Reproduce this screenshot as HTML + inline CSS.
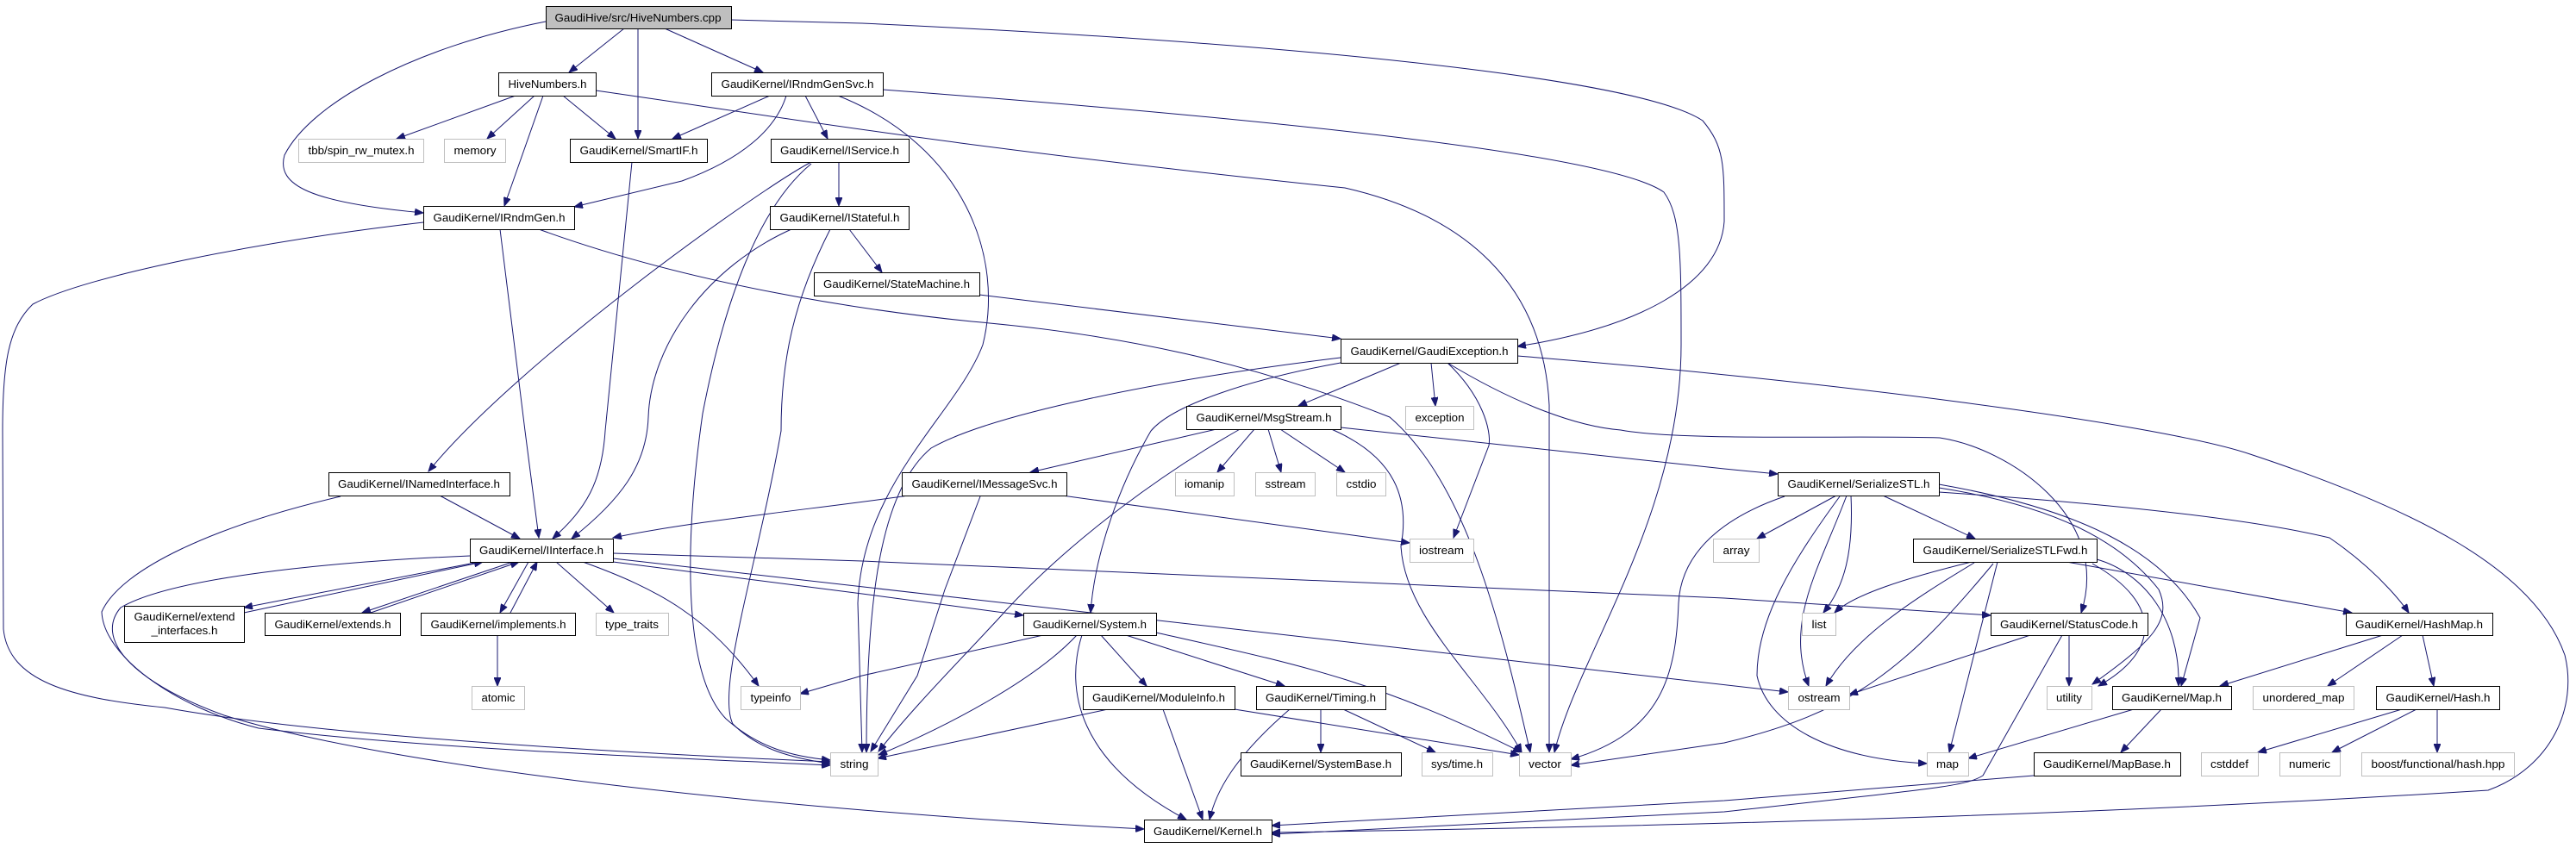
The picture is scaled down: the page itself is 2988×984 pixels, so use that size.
<!DOCTYPE html>
<html><head><meta charset="utf-8"><style>
html,body{margin:0;padding:0;background:#fff;}
svg{display:block;}
text{font-family:"Liberation Sans",sans-serif;font-size:13px;fill:#000;text-anchor:middle;}
.n{fill:#fff;stroke:#000;stroke-width:1;}
.g{fill:#fff;stroke:#bfbfbf;stroke-width:1;}
.e{fill:none;stroke:#191970;stroke-width:1;marker-end:url(#a);}
</style></head><body>
<svg width="2988" height="984" viewBox="0 0 2988 984" xmlns="http://www.w3.org/2000/svg">
<defs><marker id="a" markerUnits="userSpaceOnUse" markerWidth="11" markerHeight="8" refX="10" refY="4" orient="auto"><path d="M0,0 L10,4 L0,8 z" fill="#191970" stroke="#191970"/></marker></defs>
<g>
<path class="e" d="M724,33 L660,84"/>
<path class="e" d="M740,33 L740,161"/>
<path class="e" d="M771,33 L885,84"/>
<path class="e" d="M633,25 C480,55 360,120 330,180 C320,215 360,235 491,247"/>
<path class="e" d="M848,23 L1000,27 C1500,50 1900,90 1975,140 C2000,170 2000,190 2000,257 C1995,330 1900,380 1760,402"/>
<path class="e" d="M598,111 L460,161"/>
<path class="e" d="M620,111 L565,161"/>
<path class="e" d="M653,111 L714,161"/>
<path class="e" d="M630,111 L585,239"/>
<path class="e" d="M691,105 C900,135 1100,170 1560,218 C1700,250 1790,330 1797,470 L1797,873"/>
<path class="e" d="M893,111 L780,161"/>
<path class="e" d="M912,111 C900,150 860,185 791,210 L666,240"/>
<path class="e" d="M934,111 L960,161"/>
<path class="e" d="M972,111 C1120,170 1165,300 1140,400 C1110,480 1000,560 995,700 L1000,873"/>
<path class="e" d="M1024,104 C1500,140 1870,180 1930,223 C1950,250 1950,300 1950,400 C1950,600 1830,760 1803,873"/>
<path class="e" d="M973,188 L973,239"/>
<path class="e" d="M941,188 C880,220 600,420 497,547"/>
<path class="e" d="M941,190 C880,240 840,350 815,480 C795,620 790,780 842,834 C880,868 920,878 963,882"/>
<path class="e" d="M985,266 L1023,316"/>
<path class="e" d="M918,266 C820,310 755,400 752,484 C750,540 720,580 663,625"/>
<path class="e" d="M963,266 C920,350 906,420 906,500 C880,650 830,800 850,840 C880,870 920,880 963,886"/>
<path class="e" d="M1136,342 L1555,393"/>
<path class="e" d="M580,266 L609,500 L625,624"/>
<path class="e" d="M491,258 C300,280 100,320 38,353 C10,380 3,420 3,500 L4,730 C10,790 80,810 191,821 C350,850 640,870 963,884"/>
<path class="e" d="M625,266 C800,330 1000,360 1127,373 C1300,388 1450,420 1612,484 C1700,560 1740,720 1775,873"/>
<path class="e" d="M733,188 L702,500 C698,560 680,590 641,625"/>
<path class="e" d="M510,575 L603,625"/>
<path class="e" d="M395,576 C250,610 140,660 118,710 C120,760 200,820 300,845 C500,870 800,880 963,888"/>
<path class="e" d="M1625,421 L1506,471"/>
<path class="e" d="M1660,421 L1665,471"/>
<path class="e" d="M1679,421 C1720,460 1730,500 1727,517 L1686,624"/>
<path class="e" d="M1679,421 C1760,470 1830,495 1880,499 C1950,512 2150,505 2250,508 C2330,520 2450,600 2414,711"/>
<path class="e" d="M1555,415 C1350,440 1150,480 1080,520 C1020,570 1005,700 1005,873"/>
<path class="e" d="M1555,421 C1450,440 1360,470 1335,500 C1300,560 1270,640 1265,711"/>
<path class="e" d="M1760,413 C2100,440 2500,490 2610,527 C2800,590 2940,660 2975,760 C2990,820 2960,890 2886,917 C2600,935 2200,955 1475,966"/>
<path class="e" d="M1411,498 L1195,548"/>
<path class="e" d="M1440,497 C1357,544 1242,624 1159,717 C1110,770 1060,820 1019,872"/>
<path class="e" d="M1455,498 L1412,548"/>
<path class="e" d="M1471,498 L1486,548"/>
<path class="e" d="M1485,498 L1560,548"/>
<path class="e" d="M1542,497 C1620,530 1635,580 1625,634 C1630,720 1720,790 1765,873"/>
<path class="e" d="M1555,496 L2000,544 L2062,550"/>
<path class="e" d="M1054,575 C950,590 800,605 711,624"/>
<path class="e" d="M1137,576 L1096,684 L1064,784 L1010,872"/>
<path class="e" d="M1232,575 L1635,630"/>
<path class="e" d="M556,652 L283,705"/>
<path class="e" d="M283,711 L560,652"/>
<path class="e" d="M595,652 L420,711"/>
<path class="e" d="M430,711 L602,652"/>
<path class="e" d="M613,652 L580,711"/>
<path class="e" d="M592,711 L623,652"/>
<path class="e" d="M645,652 L712,711"/>
<path class="e" d="M676,652 C765,684 823,717 880,796"/>
<path class="e" d="M545,645 C380,652 200,670 140,705 C110,740 150,790 260,830 C450,890 900,940 1327,962"/>
<path class="e" d="M711,652 L1000,689 L1187,714"/>
<path class="e" d="M711,648 L2074,803"/>
<path class="e" d="M711,642 L1000,651 L2000,694 L2309,714"/>
<path class="e" d="M577,737 L577,796"/>
<path class="e" d="M1210,737 L1000,784 L928,805"/>
<path class="e" d="M1249,737 C1200,790 1096,844 1019,876"/>
<path class="e" d="M1255,737 C1235,800 1250,884 1376,951"/>
<path class="e" d="M1277,737 L1330,796"/>
<path class="e" d="M1306,737 L1490,796"/>
<path class="e" d="M1341,734 C1500,770 1593,787 1765,873"/>
<path class="e" d="M1285,823 L1018,880"/>
<path class="e" d="M1349,823 L1395,951"/>
<path class="e" d="M1432,823 L1762,876"/>
<path class="e" d="M1496,823 C1430,880 1410,920 1403,951"/>
<path class="e" d="M1532,823 L1532,873"/>
<path class="e" d="M1558,823 L1665,873"/>
<path class="e" d="M2130,575 L2038,625"/>
<path class="e" d="M2147,575 C2150,640 2140,680 2115,711"/>
<path class="e" d="M2142,575 C2110,660 2070,720 2098,796"/>
<path class="e" d="M2134,576 C2080,650 2038,717 2038,784 C2050,840 2120,880 2235,886"/>
<path class="e" d="M2070,576 C2000,600 1950,640 1947,700 C1944,780 1930,850 1822,881"/>
<path class="e" d="M2184,575 L2291,625"/>
<path class="e" d="M2249,566 C2383,587 2459,627 2504,684 C2520,720 2497,744 2427,794"/>
<path class="e" d="M2249,562 C2415,591 2510,641 2552,717 L2530,796"/>
<path class="e" d="M2249,571 C2440,584 2606,601 2702,624 C2765,667 2794,711 2794,711"/>
<path class="e" d="M2287,652 C2210,671 2150,690 2128,711"/>
<path class="e" d="M2290,653 C2217,697 2150,740 2118,796"/>
<path class="e" d="M2317,652 L2261,873"/>
<path class="e" d="M2312,654 C2210,777 2147,827 2000,862 L1822,888"/>
<path class="e" d="M2427,654 C2510,701 2504,757 2434,796"/>
<path class="e" d="M2432,649 C2485,664 2529,717 2527,796"/>
<path class="e" d="M2397,652 L2728,711"/>
<path class="e" d="M2355,737 L2145,806"/>
<path class="e" d="M2400,737 L2400,796"/>
<path class="e" d="M2392,737 L2300,900 C2280,912 2255,914 2000,942 L1475,968"/>
<path class="e" d="M2359,900 L2000,929 L1475,958"/>
<path class="e" d="M2475,823 L2283,880"/>
<path class="e" d="M2507,823 L2460,873"/>
<path class="e" d="M2764,737 L2575,796"/>
<path class="e" d="M2787,737 L2700,796"/>
<path class="e" d="M2810,737 L2823,796"/>
<path class="e" d="M2786,823 L2619,873"/>
<path class="e" d="M2803,823 L2705,873"/>
<path class="e" d="M2827,823 L2827,873"/>
</g>
<g>
<rect x="633.5" y="7.5" width="215" height="26" fill="#bfbfbf" stroke="#000"/><text x="740" y="25" textLength="193" lengthAdjust="spacingAndGlyphs">GaudiHive/src/HiveNumbers.cpp</text>
<rect class="n" x="578.5" y="84.5" width="113" height="27"/><text x="635" y="102" textLength="91" lengthAdjust="spacingAndGlyphs">HiveNumbers.h</text>
<rect class="n" x="825.5" y="84.5" width="199" height="27"/><text x="925" y="102" textLength="177" lengthAdjust="spacingAndGlyphs">GaudiKernel/IRndmGenSvc.h</text>
<rect class="g" x="346.5" y="161.5" width="145" height="27"/><text x="419" y="179" textLength="123" lengthAdjust="spacingAndGlyphs">tbb/spin_rw_mutex.h</text>
<rect class="g" x="515.5" y="161.5" width="71" height="27"/><text x="551" y="179" textLength="49" lengthAdjust="spacingAndGlyphs">memory</text>
<rect class="n" x="661.5" y="161.5" width="159" height="27"/><text x="741" y="179" textLength="137" lengthAdjust="spacingAndGlyphs">GaudiKernel/SmartIF.h</text>
<rect class="n" x="894.5" y="161.5" width="160" height="27"/><text x="974" y="179" textLength="138" lengthAdjust="spacingAndGlyphs">GaudiKernel/IService.h</text>
<rect class="n" x="491.5" y="239.5" width="175" height="27"/><text x="579" y="257" textLength="153" lengthAdjust="spacingAndGlyphs">GaudiKernel/IRndmGen.h</text>
<rect class="n" x="893.5" y="239.5" width="161" height="27"/><text x="974" y="257" textLength="139" lengthAdjust="spacingAndGlyphs">GaudiKernel/IStateful.h</text>
<rect class="n" x="944.5" y="316.5" width="192" height="27"/><text x="1040" y="334" textLength="170" lengthAdjust="spacingAndGlyphs">GaudiKernel/StateMachine.h</text>
<rect class="n" x="1555.5" y="393.5" width="205" height="28"/><text x="1658" y="412" textLength="183" lengthAdjust="spacingAndGlyphs">GaudiKernel/GaudiException.h</text>
<rect class="n" x="1376.5" y="471.5" width="179" height="27"/><text x="1466" y="489" textLength="157" lengthAdjust="spacingAndGlyphs">GaudiKernel/MsgStream.h</text>
<rect class="g" x="1630.5" y="471.5" width="79" height="27"/><text x="1670" y="489" textLength="57" lengthAdjust="spacingAndGlyphs">exception</text>
<rect class="n" x="381.5" y="548.5" width="210" height="27"/><text x="486" y="566" textLength="188" lengthAdjust="spacingAndGlyphs">GaudiKernel/INamedInterface.h</text>
<rect class="n" x="1046.5" y="548.5" width="191" height="27"/><text x="1142" y="566" textLength="169" lengthAdjust="spacingAndGlyphs">GaudiKernel/IMessageSvc.h</text>
<rect class="g" x="1363.5" y="548.5" width="68" height="27"/><text x="1397" y="566" textLength="46" lengthAdjust="spacingAndGlyphs">iomanip</text>
<rect class="g" x="1456.5" y="548.5" width="69" height="27"/><text x="1491" y="566" textLength="47" lengthAdjust="spacingAndGlyphs">sstream</text>
<rect class="g" x="1550.5" y="548.5" width="57" height="27"/><text x="1579" y="566" textLength="35" lengthAdjust="spacingAndGlyphs">cstdio</text>
<rect class="n" x="2062.5" y="548.5" width="187" height="27"/><text x="2156" y="566" textLength="165" lengthAdjust="spacingAndGlyphs">GaudiKernel/SerializeSTL.h</text>
<rect class="n" x="545.5" y="625.5" width="166" height="27"/><text x="628" y="643" textLength="144" lengthAdjust="spacingAndGlyphs">GaudiKernel/IInterface.h</text>
<rect class="g" x="1635.5" y="625.5" width="74" height="27"/><text x="1672" y="643" textLength="52" lengthAdjust="spacingAndGlyphs">iostream</text>
<rect class="g" x="1987.5" y="625.5" width="53" height="27"/><text x="2014" y="643" textLength="31" lengthAdjust="spacingAndGlyphs">array</text>
<rect class="n" x="2219.5" y="625.5" width="213" height="27"/><text x="2326" y="643" textLength="191" lengthAdjust="spacingAndGlyphs">GaudiKernel/SerializeSTLFwd.h</text>
<rect class="n" x="144.5" y="703.5" width="139" height="42"/><text x="214" y="720" textLength="117" lengthAdjust="spacingAndGlyphs">GaudiKernel/extend</text><text x="214" y="736" textLength="77" lengthAdjust="spacingAndGlyphs">_interfaces.h</text>
<rect class="n" x="307.5" y="711.5" width="157" height="26"/><text x="386" y="729" textLength="135" lengthAdjust="spacingAndGlyphs">GaudiKernel/extends.h</text>
<rect class="n" x="488.5" y="711.5" width="179" height="26"/><text x="578" y="729" textLength="157" lengthAdjust="spacingAndGlyphs">GaudiKernel/implements.h</text>
<rect class="g" x="691.5" y="711.5" width="84" height="26"/><text x="733" y="729" textLength="62" lengthAdjust="spacingAndGlyphs">type_traits</text>
<rect class="n" x="1187.5" y="711.5" width="154" height="26"/><text x="1264" y="729" textLength="132" lengthAdjust="spacingAndGlyphs">GaudiKernel/System.h</text>
<rect class="g" x="2090.5" y="711.5" width="39" height="26"/><text x="2110" y="729" textLength="17" lengthAdjust="spacingAndGlyphs">list</text>
<rect class="n" x="2309.5" y="711.5" width="182" height="26"/><text x="2400" y="729" textLength="160" lengthAdjust="spacingAndGlyphs">GaudiKernel/StatusCode.h</text>
<rect class="n" x="2721.5" y="711.5" width="170" height="26"/><text x="2806" y="729" textLength="148" lengthAdjust="spacingAndGlyphs">GaudiKernel/HashMap.h</text>
<rect class="g" x="547.5" y="796.5" width="61" height="27"/><text x="578" y="814" textLength="39" lengthAdjust="spacingAndGlyphs">atomic</text>
<rect class="g" x="859.5" y="796.5" width="69" height="27"/><text x="894" y="814" textLength="47" lengthAdjust="spacingAndGlyphs">typeinfo</text>
<rect class="n" x="1256.5" y="796.5" width="176" height="27"/><text x="1344" y="814" textLength="154" lengthAdjust="spacingAndGlyphs">GaudiKernel/ModuleInfo.h</text>
<rect class="n" x="1457.5" y="796.5" width="150" height="27"/><text x="1532" y="814" textLength="128" lengthAdjust="spacingAndGlyphs">GaudiKernel/Timing.h</text>
<rect class="g" x="2074.5" y="796.5" width="71" height="27"/><text x="2110" y="814" textLength="49" lengthAdjust="spacingAndGlyphs">ostream</text>
<rect class="g" x="2374.5" y="796.5" width="52" height="27"/><text x="2400" y="814" textLength="30" lengthAdjust="spacingAndGlyphs">utility</text>
<rect class="n" x="2450.5" y="796.5" width="138" height="27"/><text x="2519" y="814" textLength="116" lengthAdjust="spacingAndGlyphs">GaudiKernel/Map.h</text>
<rect class="g" x="2613.5" y="796.5" width="117" height="27"/><text x="2672" y="814" textLength="95" lengthAdjust="spacingAndGlyphs">unordered_map</text>
<rect class="n" x="2756.5" y="796.5" width="143" height="27"/><text x="2828" y="814" textLength="121" lengthAdjust="spacingAndGlyphs">GaudiKernel/Hash.h</text>
<rect class="g" x="963.5" y="873.5" width="55" height="27"/><text x="991" y="891" textLength="33" lengthAdjust="spacingAndGlyphs">string</text>
<rect class="n" x="1439.5" y="873.5" width="186" height="27"/><text x="1532" y="891" textLength="164" lengthAdjust="spacingAndGlyphs">GaudiKernel/SystemBase.h</text>
<rect class="g" x="1649.5" y="873.5" width="82" height="27"/><text x="1690" y="891" textLength="60" lengthAdjust="spacingAndGlyphs">sys/time.h</text>
<rect class="g" x="1762.5" y="873.5" width="60" height="27"/><text x="1792" y="891" textLength="38" lengthAdjust="spacingAndGlyphs">vector</text>
<rect class="g" x="2235.5" y="873.5" width="48" height="27"/><text x="2259" y="891" textLength="26" lengthAdjust="spacingAndGlyphs">map</text>
<rect class="n" x="2359.5" y="873.5" width="170" height="27"/><text x="2444" y="891" textLength="148" lengthAdjust="spacingAndGlyphs">GaudiKernel/MapBase.h</text>
<rect class="g" x="2553.5" y="873.5" width="66" height="27"/><text x="2586" y="891" textLength="44" lengthAdjust="spacingAndGlyphs">cstddef</text>
<rect class="g" x="2644.5" y="873.5" width="70" height="27"/><text x="2679" y="891" textLength="48" lengthAdjust="spacingAndGlyphs">numeric</text>
<rect class="g" x="2739.5" y="873.5" width="177" height="27"/><text x="2828" y="891" textLength="155" lengthAdjust="spacingAndGlyphs">boost/functional/hash.hpp</text>
<rect class="n" x="1327.5" y="951.5" width="148" height="26"/><text x="1401" y="969" textLength="126" lengthAdjust="spacingAndGlyphs">GaudiKernel/Kernel.h</text>
</g>
</svg>
</body></html>
